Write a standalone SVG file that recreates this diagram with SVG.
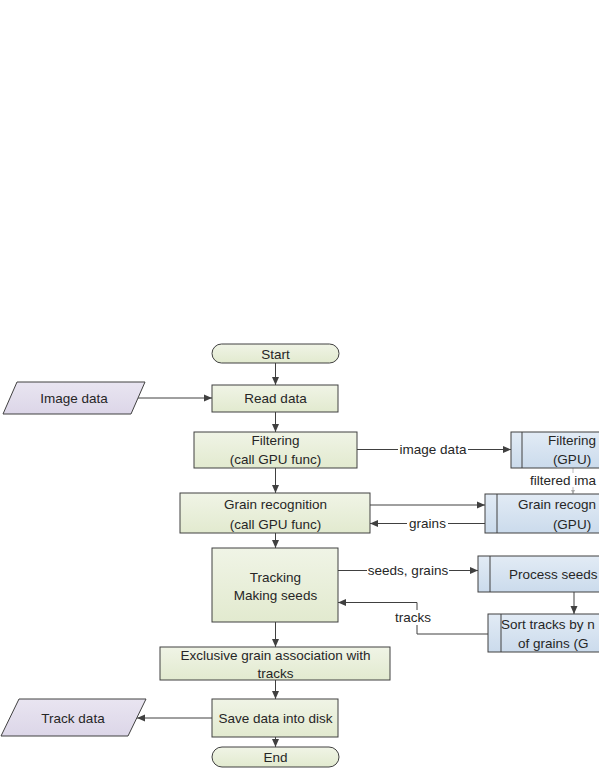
<svg xmlns="http://www.w3.org/2000/svg" width="599" height="776" viewBox="0 0 599 776">
<defs>
<linearGradient id="gG" x1="0" y1="0" x2="0" y2="1"><stop offset="0" stop-color="#f0f4e6"/><stop offset="1" stop-color="#e2eacf"/></linearGradient>
<linearGradient id="gB" x1="0" y1="0" x2="0" y2="1"><stop offset="0" stop-color="#e2ebf5"/><stop offset="1" stop-color="#cbdbec"/></linearGradient>
<linearGradient id="gP" x1="0" y1="0" x2="0" y2="1"><stop offset="0" stop-color="#e9e5f1"/><stop offset="1" stop-color="#dcd6e8"/></linearGradient>
<marker id="ar" markerUnits="userSpaceOnUse" markerWidth="9" markerHeight="8" refX="8" refY="4" orient="auto"><path d="M0,0.5 L8,4 L0,7.5 z" fill="#404040"/></marker>
<marker id="arS" markerUnits="userSpaceOnUse" markerWidth="5" markerHeight="5" refX="4" refY="2" orient="auto"><path d="M0,0 L4,2 L0,4 z" fill="#aaaaaa"/></marker>
</defs>
<style>
.g{fill:url(#gG);stroke:#404040;stroke-width:1}
.b{fill:url(#gB);stroke:#404040;stroke-width:1}
.p{fill:url(#gP);stroke:#404040;stroke-width:1}
.in{stroke:#404040;stroke-width:1;fill:none}
.t{font-family:"Liberation Sans",Arial,sans-serif;font-size:13.5px;fill:#262626}
.m{text-anchor:middle}
.c{stroke:#404040;stroke-width:1;fill:none;marker-end:url(#ar)}
.bg{fill:#ffffff}
</style>
<rect width="599" height="776" fill="#ffffff"/>
<g id="connectors">
<line class="c" x1="275.5" y1="363" x2="275.5" y2="385"/>
<line class="c" x1="138" y1="398" x2="212" y2="398"/>
<line class="c" x1="275.5" y1="412" x2="275.5" y2="432"/>
<line class="c" x1="357" y1="449.5" x2="511" y2="449.5"/>
<line class="c" x1="275.5" y1="468" x2="275.5" y2="493"/>
<line x1="573" y1="468" x2="573" y2="494" stroke="#aaaaaa" stroke-width="0.8" marker-end="url(#arS)"/>
<line class="c" x1="370" y1="505" x2="485" y2="505"/>
<line class="c" x1="485" y1="523.5" x2="370" y2="523.5"/>
<line class="c" x1="275.5" y1="533" x2="275.5" y2="548"/>
<line class="c" x1="338" y1="570.5" x2="478" y2="570.5"/>
<line class="c" x1="574" y1="592" x2="574" y2="614"/>
<polyline class="c" points="488,634 417,634 417,602.5 338,602.5"/>
<line class="c" x1="275.5" y1="622" x2="275.5" y2="647"/>
<line class="c" x1="275.5" y1="680" x2="275.5" y2="699"/>
<line class="c" x1="212" y1="718" x2="137" y2="718"/>
<line class="c" x1="275.5" y1="737" x2="275.5" y2="747"/>
<rect class="bg" x="398" y="442" width="70" height="15"/>
<text class="t m" x="433" y="454">image data</text>
<rect class="bg" x="529" y="473" width="70" height="14"/>
<text class="t" x="530" y="484.5">filtered ima</text>
<rect class="bg" x="407" y="516" width="41" height="15"/>
<text class="t m" x="427.5" y="528">grains</text>
<rect class="bg" x="367" y="563" width="82" height="15"/>
<text class="t m" x="408" y="575">seeds, grains</text>
<rect class="bg" x="393" y="610" width="40" height="15"/>
<text class="t m" x="413" y="622">tracks</text>
</g>
<g id="start">
<rect class="g" x="212" y="344" width="127" height="19" rx="9.5"/>
<text class="t m" x="275.5" y="358.5">Start</text>
</g>
<g id="image-data">
<polygon class="p" points="17,382 145,382 131,414 3,414"/>
<text class="t m" x="74" y="403">Image data</text>
</g>
<g id="read-data">
<rect class="g" x="212" y="385" width="126" height="27"/>
<text class="t m" x="275.5" y="403">Read data</text>
</g>
<g id="filtering">
<rect class="g" x="194" y="432" width="163" height="36"/>
<text class="t m" x="275.5" y="445">Filtering</text>
<text class="t m" x="275.5" y="464">(call GPU func)</text>
</g>
<g id="filtering-gpu">
<rect class="b" x="511" y="432" width="115" height="36"/>
<line class="in" x1="522" y1="432" x2="522" y2="468"/>
<text class="t" x="548" y="445">Filtering</text>
<text class="t m" x="572" y="464">(GPU)</text>
</g>
<g id="grain-recognition">
<rect class="g" x="180" y="493" width="190" height="40"/>
<text class="t m" x="275.5" y="509">Grain recognition</text>
<text class="t m" x="275.5" y="529">(call GPU func)</text>
</g>
<g id="grain-recognition-gpu">
<rect class="b" x="485" y="494" width="160" height="39"/>
<line class="in" x1="497" y1="494" x2="497" y2="533"/>
<text class="t" x="518" y="509">Grain recogn</text>
<text class="t m" x="572" y="529">(GPU)</text>
</g>
<g id="tracking">
<rect class="g" x="212" y="548" width="126" height="74"/>
<text class="t m" x="275.5" y="581.5">Tracking</text>
<text class="t m" x="275.5" y="600">Making seeds</text>
</g>
<g id="process-seeds">
<rect class="b" x="478" y="556" width="150" height="36"/>
<line class="in" x1="490" y1="556" x2="490" y2="592"/>
<text class="t" x="509" y="579">Process seeds</text>
</g>
<g id="sort-tracks">
<rect class="b" x="488" y="614" width="150" height="38"/>
<line class="in" x1="501" y1="614" x2="501" y2="652"/>
<text class="t" x="501" y="629">Sort tracks by n</text>
<text class="t" x="518" y="648">of grains (G</text>
</g>
<g id="exclusive">
<rect class="g" x="160" y="647" width="230" height="33"/>
<text class="t m" x="275.5" y="660">Exclusive grain association with</text>
<text class="t m" x="275.5" y="677.5">tracks</text>
</g>
<g id="save-data">
<rect class="g" x="212" y="699" width="126" height="38"/>
<text class="t m" x="275.5" y="723">Save data into disk</text>
</g>
<g id="track-data">
<polygon class="p" points="19,699 146,699 128,736 1,736"/>
<text class="t m" x="73" y="723">Track data</text>
</g>
<g id="end">
<rect class="g" x="212" y="747" width="127" height="20" rx="10"/>
<text class="t m" x="275.5" y="762">End</text>
</g>
</svg>
